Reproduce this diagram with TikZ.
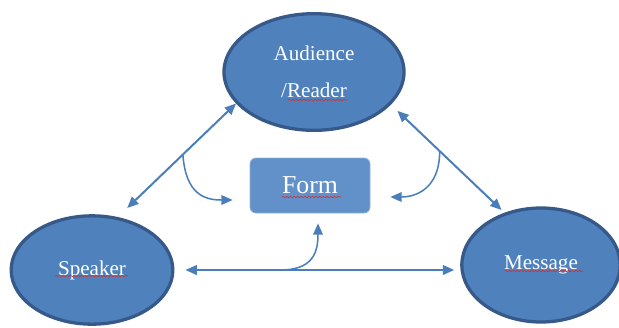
\documentclass[tikz,border=0pt]{standalone}
\usepackage{fontspec}
\setmainfont{Liberation Serif}
\newfontfamily\labelfont{Liberation Serif}
\usetikzlibrary{shapes.geometric, arrows.meta, calc, decorations.pathmorphing}
\definecolor{ovalblue}{HTML}{4F81BD}
\definecolor{ovaledge}{HTML}{36598A}
\definecolor{formblue}{HTML}{6290C8}
\definecolor{arrowblue}{HTML}{4A7EBB}
\definecolor{spell}{HTML}{D03030}
\tikzset{
  oval/.style={ellipse, draw=ovaledge, line width=2.8pt, fill=ovalblue, text=white,
               align=center, font=\labelfont\fontsize{18}{32}\selectfont, inner sep=0pt},
  frm/.style={rectangle, rounded corners=5pt, fill=formblue, draw=formblue!70!white,
              line width=0.6pt, text=white, font=\labelfont\fontsize{22}{26}\selectfont,
              minimum width=3.6cm, minimum height=1.65cm},
  dbl/.style={{Triangle[length=3.4mm,width=2.9mm]}-{Triangle[length=3.4mm,width=2.9mm]},
              line width=1.7pt, arrowblue},
  crv/.style={-{Triangle[length=3.4mm,width=2.9mm]}, line width=1.3pt, arrowblue},
  squig/.style={spell, line width=0.5pt, decorate,
                decoration={snake, segment length=1.1mm, amplitude=0.6pt}}
}

\begin{document}
\begin{tikzpicture}[x=0.03cm, y=-0.03cm]
  \useasboundingbox (0,0) rectangle (619,327);
  % three parties and the form
  \node[oval, minimum width=5.4cm, minimum height=3.5cm] (aud) at (314,72) {Audience\\/Reader};
  \node[oval, minimum width=4.85cm, minimum height=3.25cm] (spk) at (92,270) {Speaker};
  \node[oval, minimum width=4.75cm, minimum height=3.42cm] (msg) at (541,265) {Message};
  \node[frm] (form) at (310,185.5) {Form};
  % spelling marks
  \draw[squig] ([shift={(-26,28)}]aud.center) -- ([shift={(33,28)}]aud.center);
  \draw[squig] ([shift={(-37,6)}]spk.center) -- ([shift={(36,6)}]spk.center);
  \draw[squig] ([shift={(-36,6)}]msg.center) -- ([shift={(42,6)}]msg.center);
  \draw[squig] ([shift={(-28,11.5)}]form.center) -- ([shift={(31,11.5)}]form.center);
  % two-way links
  \draw[dbl, shorten <=0.39cm] (spk.64) -- (aud.202) coordinate[pos=0.55] (lm);
  \draw[dbl, shorten <=0.27cm, shorten >=0.12cm] (aud.337) -- (msg.125) coordinate[pos=0.43] (rm);
  \draw[dbl, shorten <=0.33cm, shorten >=0.18cm] (spk.east) -- (spk.east -| msg.west) coordinate[pos=0.37] (bm);
  % bends into the form
  \draw[crv, shorten >=0.51cm] (lm) .. controls +(3,40) and +(-45,0) .. ([yshift=-0.435cm]form.west);
  \draw[crv, shorten >=0.6cm] (rm) .. controls +(0,38) and +(45,0) .. ([yshift=-0.345cm]form.east);
  \draw[crv, shorten >=0.3cm] (bm) .. controls +(32,0) and +(0,40) .. ([xshift=0.24cm]form.south);
\end{tikzpicture}
\end{document}
